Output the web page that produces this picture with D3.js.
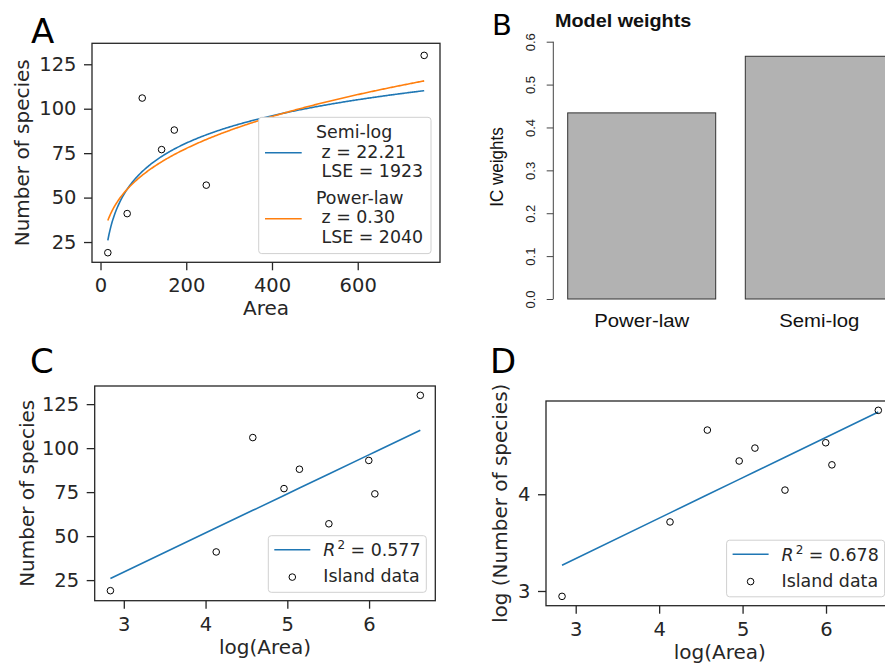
<!DOCTYPE html>
<html><head><meta charset="utf-8">
<script src="https://cdn.jsdelivr.net/npm/d3@7"></script>
<style>body{margin:0;background:#fff}text{white-space:pre}</style>
</head><body><svg id="c" width="885" height="666"></svg>
<script>
// ---------------- data ----------------
const areas   = [17.05, 62.2, 97.3, 142.5, 172.1, 246.7, 402, 433, 755];
const species = [19, 41, 106, 77, 88, 57, 93, 74, 130];
const semiLogFit  = [-37.03, 22.21];  // intercept, z
const powerLawFit = [15.84, 0.30];    // c, z
const logLogFit   = [2.081, 0.418];   // intercept, slope
const modelNames = ["Power-law", "Semi-log"];
const icWeights  = [0.434, 0.566];
const legendA = [["Semi-log", " z = 22.21", " LSE = 1923"], ["Power-law", " z = 0.30", " LSE = 2040"]];
const r2C = "0.577", r2D = "0.678";
const xTicksA = [0, 200, 400, 600];
const yTicksA = [25, 50, 75, 100, 125];
const xTicksLog = [3, 4, 5, 6];
const yTicksD = [3, 4];
const yTicksB = [0, 0.1, 0.2, 0.3, 0.4, 0.5, 0.6];

// ---------------- setup ----------------
const svg = d3.select("#c");
const INK = "#262626", BLUE = "#1f77b4", ORANGE = "#ff7f0e";
const MPL = "DejaVu Sans", RF = "Liberation Sans, Arial, sans-serif";

function frame(x, y, xt, yt, xlab, ylab, ylabX, fmtX) {
  const g = svg.append("g");
  const [x0, x1] = x.range(), [y0, y1] = y.range();
  const ax = g.append("g").attr("transform", `translate(0,${y0})`)
    .call(d3.axisBottom(x).tickValues(xt).tickSize(8).tickPadding(8).tickFormat(fmtX || d3.format("d")));
  const ay = g.append("g").attr("transform", `translate(${x0},0)`)
    .call(d3.axisLeft(y).tickValues(yt).tickSize(8).tickPadding(7.5).tickFormat(d3.format("d")));
  [ax, ay].forEach(a => {
    a.select(".domain").remove();
    a.selectAll("line").attr("stroke", INK).attr("stroke-width", 1.3);
    a.selectAll("text").attr("font-family", MPL).attr("font-size", 19.5).attr("fill", INK);
  });
  g.append("rect").attr("x", x0).attr("y", y1).attr("width", x1 - x0).attr("height", y0 - y1)
    .attr("fill", "none").attr("stroke", INK).attr("stroke-width", 1.3);
  g.append("text").attr("x", (x0 + x1) / 2).attr("y", y0 + 53).attr("text-anchor", "middle")
    .attr("font-family", MPL).attr("font-size", 20).attr("fill", INK).text(xlab);
  g.append("text").attr("transform", `translate(${ylabX},${(y0 + y1) / 2}) rotate(-90)`)
    .attr("text-anchor", "middle").attr("font-family", MPL).attr("font-size", 20).attr("fill", INK).text(ylab);
  return g;
}
function points(g, xs, ys, x, y) {
  g.append("g").selectAll("circle").data(xs).join("circle")
    .attr("cx", (d, i) => x(d)).attr("cy", (d, i) => y(ys[i])).attr("r", 3.3)
    .attr("fill", "none").attr("stroke", "#000").attr("stroke-width", 1);
}
function legendBox(g, L, T, w, h) {
  g.append("rect").attr("x", L).attr("y", T).attr("width", w).attr("height", h).attr("rx", 3)
    .attr("fill", "#fff").attr("stroke", "#d0d0d0").attr("stroke-width", 1);
}
function letter(t, x, y, size, fam) {
  svg.append("text").attr("x", x).attr("y", y).attr("font-family", fam || MPL).attr("font-size", size)
    .attr("fill", "#000").text(t);
}

// ---------------- Panel A ----------------
{
  const x = d3.scaleLinear().domain([-19.85, 791.9]).range([92, 440]);
  const y = d3.scaleLinear().domain([13.6, 136.8]).range([262.3, 43.3]);
  const g = frame(x, y, xTicksA, yTicksA, "Area", "Number of species", 29);
  const [amin, amax] = d3.extent(areas);
  const grid = d3.range(0, 301).map(i => amin + (amax - amin) * i / 300);
  const line = d3.line().x(d => x(d[0])).y(d => y(d[1]));
  points(g, areas, species, x, y);
  g.append("path").attr("d", line(grid.map(a => [a, semiLogFit[0] + semiLogFit[1] * Math.log(a)])))
    .attr("fill", "none").attr("stroke", BLUE).attr("stroke-width", 1.6);
  g.append("path").attr("d", line(grid.map(a => [a, powerLawFit[0] * Math.pow(a, powerLawFit[1])])))
    .attr("fill", "none").attr("stroke", ORANGE).attr("stroke-width", 1.6);
  const L = 258.7, T = 117.3;
  legendBox(g, L, T, 172.3, 136.3);
  [[BLUE, 35.4, 0], [ORANGE, 101.4, 1]].forEach(([c, dy, k]) => {
    g.append("line").attr("x1", L + 6.3).attr("x2", L + 43).attr("y1", T + dy).attr("y2", T + dy)
      .attr("stroke", c).attr("stroke-width", 1.6);
    const base = k === 0 ? 21 : 86.7;
    legendA[k].forEach((s, j) => {
      g.append("text").attr("x", L + 57.3).attr("y", T + base + j * 19.4)
        .attr("font-family", MPL).attr("font-size", 17.4).attr("fill", INK).text(s);
    });
  });
}

// ---------------- Panel C ----------------
const logA = areas.map(a => Math.log(a));
function regLegend(g, L, T, r2) {
  legendBox(g, L, T, 158, 56.6);
  g.append("line").attr("x1", L + 6).attr("x2", L + 42).attr("y1", T + 14).attr("y2", T + 14)
    .attr("stroke", BLUE).attr("stroke-width", 1.6);
  const t = g.append("text").attr("x", L + 55).attr("y", T + 20.4).attr("font-family", MPL)
    .attr("font-size", 17.4).attr("fill", INK);
  t.append("tspan").attr("font-style", "italic").text("R");
  t.append("tspan").attr("font-size", 12).attr("dy", -7).attr("dx", 2).text("2");
  t.append("tspan").attr("dy", 7).text(" = " + r2);
  g.append("circle").attr("cx", L + 24).attr("cy", T + 41.4).attr("r", 3.3)
    .attr("fill", "none").attr("stroke", "#000").attr("stroke-width", 1);
  g.append("text").attr("x", L + 55).attr("y", T + 46.6).attr("font-family", MPL)
    .attr("font-size", 17.4).attr("fill", INK).text("Island data");
}
{
  const x = d3.scaleLinear().domain([2.644, 6.81]).range([94.7, 435.3]);
  const y = d3.scaleLinear().domain([13.3, 135.3]).range([600.7, 386]);
  const g = frame(x, y, xTicksLog, yTicksA, "log(Area)", "Number of species", 33.5);
  const sorted = logA.slice().sort(d3.ascending);
  g.append("path").attr("d", d3.line().x(d => x(d)).y(d => y(semiLogFit[0] + semiLogFit[1] * d))(sorted))
    .attr("fill", "none").attr("stroke", BLUE).attr("stroke-width", 1.6);
  points(g, logA, species, x, y);
  regLegend(g, x.range()[1] - 9 - 158, 535.7, r2C);
}

// ---------------- Panel D ----------------
{
  const x = d3.scaleLinear().domain([2.644, 6.81]).range([546, 893.6]);
  const y = d3.scaleLinear().domain([2.848, 4.964]).range([605.7, 401]);
  const g = frame(x, y, xTicksLog, yTicksD, "log(Area)", "log (Number of species)", 507);
  const sorted = logA.slice().sort(d3.ascending);
  g.append("path").attr("d", d3.line().x(d => x(d)).y(d => y(logLogFit[0] + logLogFit[1] * d))(sorted))
    .attr("fill", "none").attr("stroke", BLUE).attr("stroke-width", 1.6);
  points(g, logA, species.map(s => Math.log(s)), x, y);
  regLegend(g, x.range()[1] - 9 - 158, 540.2, r2D);
}

// ---------------- Panel B ----------------
{
  const x = d3.scaleBand().domain(modelNames).range([567.7, 893.3]).paddingInner(0.2 / 1.2).paddingOuter(0);
  const y = d3.scaleLinear().domain([0, 0.6]).range([299, 41.7]);
  const g = svg.append("g");
  g.selectAll("rect").data(modelNames).join("rect")
    .attr("x", d => x(d)).attr("width", x.bandwidth())
    .attr("y", (d, i) => y(icWeights[i])).attr("height", (d, i) => y(0) - y(icWeights[i]))
    .attr("fill", "#b2b2b2").attr("stroke", "#333").attr("stroke-width", 1);
  const ay = g.append("g").attr("transform", "translate(553.3,0)")
    .call(d3.axisLeft(y).tickValues(yTicksB).tickSize(6.6).tickPadding(0).tickFormat(d3.format(".1f")));
  ay.select(".domain").attr("stroke", "#444").attr("d", `M0,${y(0)}V${y(0.6)}`);
  ay.selectAll("line").attr("stroke", "#444");
  ay.selectAll(".tick text").attr("x", null).attr("dy", null).attr("text-anchor", "middle")
    .attr("transform", "translate(-18.3,0) rotate(-90)")
    .attr("font-family", RF).attr("font-size", 13).attr("fill", "#222");
  g.selectAll(".cat").data(modelNames).join("text").attr("class", "cat")
    .attr("transform", d => `translate(${x(d) + x.bandwidth() / 2},327.3) scale(1.1,1)`)
    .attr("text-anchor", "middle").attr("font-family", RF).attr("font-size", 18.5).attr("fill", "#111").text(d => d);
  g.append("text").attr("transform", "translate(502.7,167) rotate(-90) scale(1,1.1)")
    .attr("text-anchor", "middle").attr("font-family", RF).attr("font-size", 17).attr("fill", "#111").text("IC weights");
  g.append("text").attr("transform", "translate(555,26.7) scale(1.1,1)")
    .attr("font-family", RF).attr("font-weight", "bold").attr("font-size", 18).attr("fill", "#111").text("Model weights");
}

// ---------------- panel letters ----------------
letter("A", 31, 42.7, 34);
letter("B", 492, 35, 29);
letter("C", 30, 373, 34);
letter("D", 490, 373, 34);
</script></body></html>
